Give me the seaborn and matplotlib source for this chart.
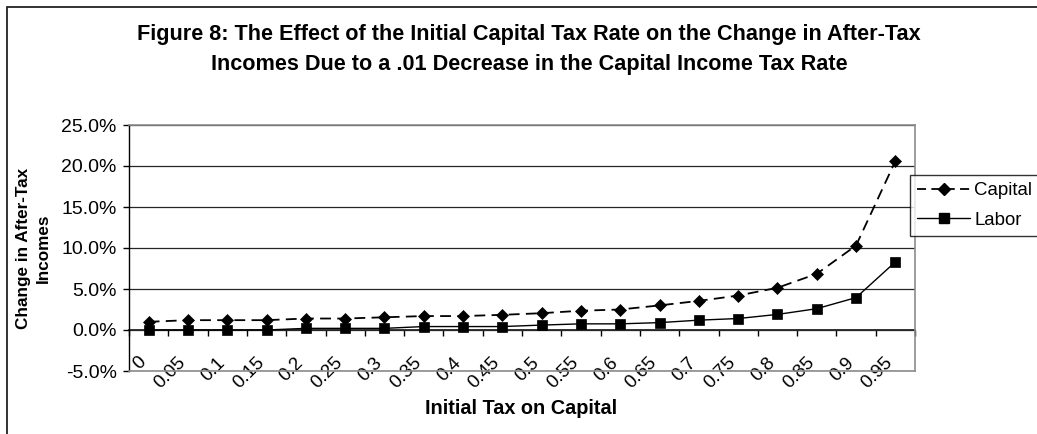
import numpy as np
import pandas as pd
import matplotlib
matplotlib.use("Agg")
import matplotlib.pyplot as plt
import seaborn as sns
from matplotlib.lines import Line2D
from matplotlib.patches import Rectangle
from matplotlib.ticker import FuncFormatter
from matplotlib.transforms import ScaledTranslation

# ---- data ----
tax_labels = ["0", "0.05", "0.1", "0.15", "0.2", "0.25", "0.3", "0.35", "0.4", "0.45",
              "0.5", "0.55", "0.6", "0.65", "0.7", "0.75", "0.8", "0.85", "0.9", "0.95"]
capital = [1.0, 1.2, 1.2, 1.2, 1.4, 1.4, 1.55, 1.7, 1.7, 1.85,
           2.05, 2.35, 2.5, 3.0, 3.55, 4.2, 5.15, 6.85, 10.3, 20.6]
labor = [0.0, 0.0, 0.0, 0.0, 0.2, 0.2, 0.2, 0.42, 0.42, 0.42,
         0.6, 0.75, 0.75, 0.9, 1.2, 1.4, 1.9, 2.6, 3.95, 8.3]
series_names = ["Capital", "Labor"]
y_ticks = [-5, 0, 5, 10, 15, 20, 25]

title_line1 = "Figure 8: The Effect of the Initial Capital Tax Rate on the Change in After-Tax"
title_line2 = "Incomes Due to a .01 Decrease in the Capital Income Tax Rate"
x_title = "Initial Tax on Capital"
y_title = "Change in After-Tax\nIncomes"

df = pd.DataFrame({
    "tax": tax_labels * 2,
    "value": capital + labor,
    "series": [series_names[0]] * len(capital) + [series_names[1]] * len(labor),
})

sns.set_theme(style="white")
plt.rcParams["font.family"] = ["Liberation Sans", "DejaVu Sans"]

W, H = 1037, 434
fig = plt.figure(figsize=(W / 100, H / 100), dpi=100)
fig.patch.set_facecolor("white")
ax = fig.add_axes([129 / W, 1 - 371 / H, (915 - 129) / W, (371 - 125) / H])
ax.set_facecolor("white")

sns.pointplot(data=df, x="tax", y="value", hue="series", order=tax_labels,
              hue_order=series_names, palette=["black", "black"],
              markers=["D", "s"], linestyles=["--", "-"], errorbar=None,
              legend=False, ax=ax)

styles = {0: dict(lw=1.3, ms=6.0, dashes=(6, 3.5)), 1: dict(lw=1.0, ms=7.0, dashes=None)}
for i, ln in enumerate(ax.lines[:2]):
    st = styles[i]
    ln.set_linewidth(st["lw"])
    ln.set_markersize(st["ms"])
    ln.set_markeredgewidth(0.5)
    ln.set_color("black")
    ln.set_zorder(5)
    if st["dashes"] is not None:
        ln.set_dashes(st["dashes"])

ax.set_xlim(-0.5, len(tax_labels) - 0.5)
ax.set_ylim(y_ticks[0], y_ticks[-1])
ax.set_yticks(y_ticks)
ax.yaxis.set_major_formatter(FuncFormatter(lambda v, p: f"{v:.1f}%"))
ax.yaxis.grid(True, color="#262626", lw=0.9)
ax.xaxis.grid(False)
ax.set_axisbelow(True)
ax.set_xlabel("")
ax.set_ylabel("")

for s in ["top", "right", "bottom"]:
    ax.spines[s].set_color("#8c8c8c")
    ax.spines[s].set_linewidth(1.2)
ax.spines["left"].set_color("black")
ax.spines["left"].set_linewidth(1.0)

ax.tick_params(axis="y", left=True, direction="out", length=4.5, width=1.0,
               color="black", labelsize=14, pad=4.3, labelcolor="black")
ax.set_xticks(range(len(tax_labels)))
ax.set_xticklabels(tax_labels, rotation=45, ha="right", va="center",
                   rotation_mode="anchor")
ax.tick_params(axis="x", bottom=True, length=0, pad=-8, labelsize=13.5,
               labelcolor="black")
off = ScaledTranslation(-5 / 100, 0, fig.dpi_scale_trans)
for lbl in ax.get_xticklabels():
    lbl.set_transform(lbl.get_transform() + off)

# zero line with category-boundary tick marks
zero_frac = (0 - y_ticks[0]) / (y_ticks[-1] - y_ticks[0])
sec = ax.secondary_xaxis(zero_frac)
sec.set_xticks(np.arange(-0.5, len(tax_labels), 1.0))
sec.tick_params(axis="x", direction="out", length=4, width=1.0, color="black",
                labelbottom=False, labeltop=False)
sec.spines["bottom"].set_color("black")
sec.spines["bottom"].set_linewidth(1.1)
sec.spines["top"].set_visible(False)

# titles
fig.text(529 / W, 1 - 40 / H, title_line1, ha="center", va="baseline",
         fontsize=15.6, fontweight="bold", color="black")
fig.text(529 / W, 1 - 70 / H, title_line2, ha="center", va="baseline",
         fontsize=15.6, fontweight="bold", color="black")
fig.text(521 / W, 1 - 408 / H, x_title, ha="center", va="center",
         fontsize=14.3, fontweight="bold", color="black")
fig.text(33.5 / W, 1 - 248 / H, y_title, ha="center", va="center", rotation=90,
         fontsize=12.3, fontweight="bold", color="black", linespacing=1.45,
         multialignment="center")

# legend
handles = [Line2D([], [], color="black", lw=1.3, ls=(0, (5, 2.95)), marker="D", ms=6.0),
           Line2D([], [], color="black", lw=1.0, ls="-", marker="s", ms=7.0)]
leg = fig.legend(handles, series_names, loc="upper left",
                 bbox_to_anchor=(910 / W, 1 - 175 / H), fontsize=13.4,
                 frameon=True, fancybox=False, handlelength=2.8,
                 handletextpad=0.25, borderpad=0.4, labelspacing=0.65,
                 borderaxespad=0)
leg.get_frame().set_edgecolor("black")
leg.get_frame().set_linewidth(1.0)
for t in leg.get_texts():
    t.set_color("black")

# outer chart border (left and top edges visible)
fig.add_artist(Rectangle((7 / W, -0.2), 1.2, 1.2 - 7 / H, transform=fig.transFigure,
                         fill=False, edgecolor="#222222", lw=1.3))

fig.savefig("out.png", dpi=100, facecolor="white")
